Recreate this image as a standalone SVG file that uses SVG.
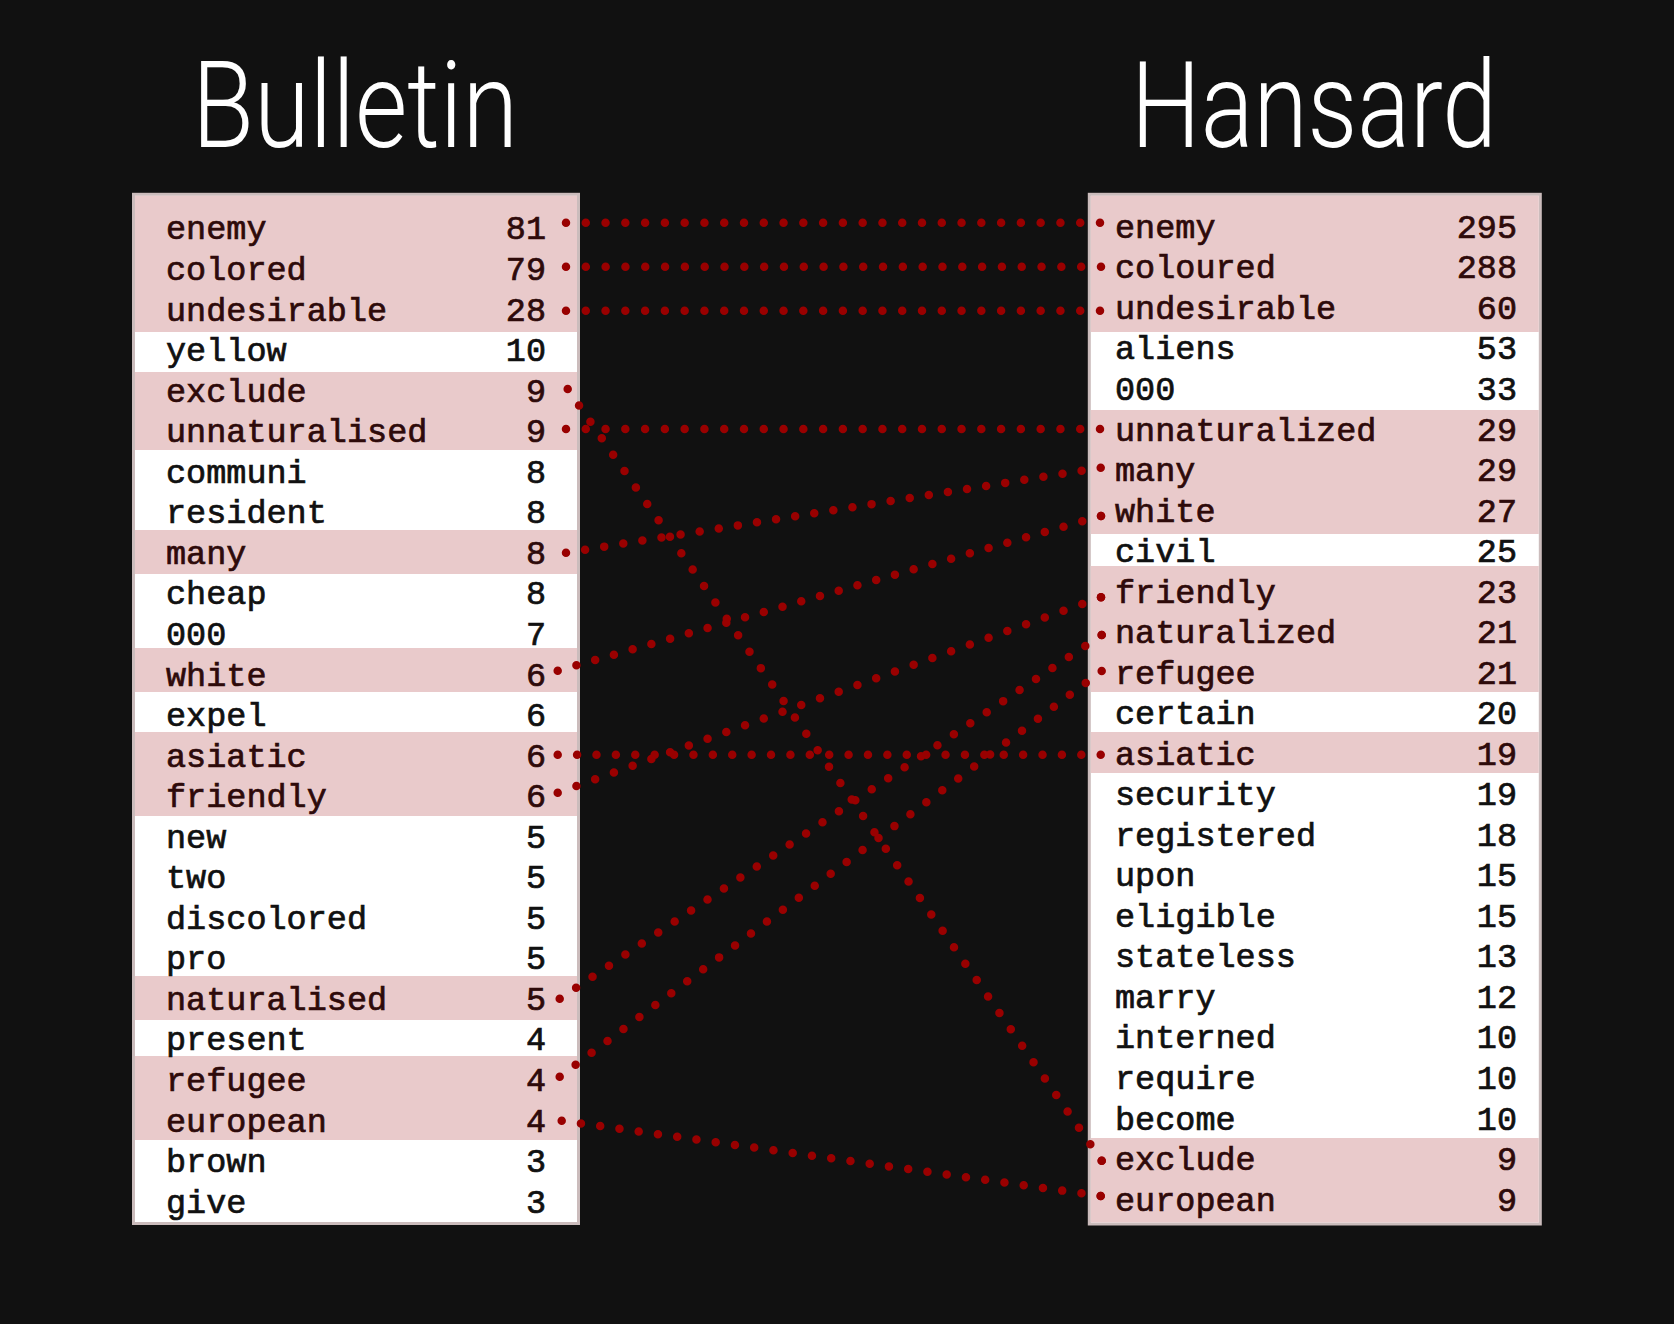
<svg xmlns="http://www.w3.org/2000/svg" width="1674" height="1324" viewBox="0 0 1674 1324">
<style>
.title{font-family:Roboto,"Liberation Sans",sans-serif;font-size:120px;fill:#ffffff;font-weight:300}
.box{stroke:#cbbcbc;stroke-width:3;fill:#ffffff}
.pk{fill:#e9cacb}
.t{font-family:"Liberation Mono","DejaVu Sans Mono",monospace;font-size:33.5px;fill:#111111;stroke:#111111;stroke-width:0.7}
.p{fill:#2e0a0a;stroke:#2e0a0a}
.n{text-anchor:end}
.c{fill:none;stroke:#990000;stroke-width:8.5;stroke-linecap:round;stroke-dasharray:0 1}
.d{fill:#990000}
</style>
<rect x="0" y="0" width="1674" height="1324" fill="#111111"/>
<text class="title" x="192" y="146.7" textLength="326" lengthAdjust="spacingAndGlyphs">Bulletin</text>
<text class="title" x="1131" y="146.7" textLength="366" lengthAdjust="spacingAndGlyphs">Hansard</text>

<g id="bulletin-table">
<rect class="box" x="133.5" y="194.3" width="445" height="1029.2"/>
<rect class="pk" x="135" y="195.8" width="442" height="136.2"/>
<rect class="pk" x="135" y="372" width="442" height="78"/>
<rect class="pk" x="135" y="530" width="442" height="44"/>
<rect class="pk" x="135" y="648" width="442" height="44"/>
<rect class="pk" x="135" y="732" width="442" height="84"/>
<rect class="pk" x="135" y="976" width="442" height="44"/>
<rect class="pk" x="135" y="1056" width="442" height="84"/>
<g id="b-enemy"><text class="t p" x="166" y="239.4">enemy</text><text class="t p n" x="546" y="239.4">81</text></g>
<g id="b-colored"><text class="t p" x="166" y="280">colored</text><text class="t p n" x="546" y="280">79</text></g>
<g id="b-undesirable"><text class="t p" x="166" y="320.5">undesirable</text><text class="t p n" x="546" y="320.5">28</text></g>
<g id="b-yellow"><text class="t" x="166" y="361.1">yellow</text><text class="t n" x="546" y="361.1">10</text></g>
<g id="b-exclude"><text class="t p" x="166" y="401.6">exclude</text><text class="t p n" x="546" y="401.6">9</text></g>
<g id="b-unnaturalised"><text class="t p" x="166" y="442.2">unnaturalised</text><text class="t p n" x="546" y="442.2">9</text></g>
<g id="b-communi"><text class="t" x="166" y="482.7">communi</text><text class="t n" x="546" y="482.7">8</text></g>
<g id="b-resident"><text class="t" x="166" y="523.3">resident</text><text class="t n" x="546" y="523.3">8</text></g>
<g id="b-many"><text class="t p" x="166" y="563.8">many</text><text class="t p n" x="546" y="563.8">8</text></g>
<g id="b-cheap"><text class="t" x="166" y="604.4">cheap</text><text class="t n" x="546" y="604.4">8</text></g>
<g id="b-000"><text class="t" x="166" y="644.9">000</text><text class="t n" x="546" y="644.9">7</text></g>
<g id="b-white"><text class="t p" x="166" y="685.5">white</text><text class="t p n" x="546" y="685.5">6</text></g>
<g id="b-expel"><text class="t" x="166" y="726">expel</text><text class="t n" x="546" y="726">6</text></g>
<g id="b-asiatic"><text class="t p" x="166" y="766.6">asiatic</text><text class="t p n" x="546" y="766.6">6</text></g>
<g id="b-friendly"><text class="t p" x="166" y="807.1">friendly</text><text class="t p n" x="546" y="807.1">6</text></g>
<g id="b-new"><text class="t" x="166" y="847.7">new</text><text class="t n" x="546" y="847.7">5</text></g>
<g id="b-two"><text class="t" x="166" y="888.2">two</text><text class="t n" x="546" y="888.2">5</text></g>
<g id="b-discolored"><text class="t" x="166" y="928.8">discolored</text><text class="t n" x="546" y="928.8">5</text></g>
<g id="b-pro"><text class="t" x="166" y="969.3">pro</text><text class="t n" x="546" y="969.3">5</text></g>
<g id="b-naturalised"><text class="t p" x="166" y="1009.9">naturalised</text><text class="t p n" x="546" y="1009.9">5</text></g>
<g id="b-present"><text class="t" x="166" y="1050.4">present</text><text class="t n" x="546" y="1050.4">4</text></g>
<g id="b-refugee"><text class="t p" x="166" y="1091">refugee</text><text class="t p n" x="546" y="1091">4</text></g>
<g id="b-european"><text class="t p" x="166" y="1131.5">european</text><text class="t p n" x="546" y="1131.5">4</text></g>
<g id="b-brown"><text class="t" x="166" y="1172.1">brown</text><text class="t n" x="546" y="1172.1">3</text></g>
<g id="b-give"><text class="t" x="166" y="1212.6">give</text><text class="t n" x="546" y="1212.6">3</text></g>
</g>

<g id="hansard-table">
<rect class="box" x="1089.3" y="194.3" width="451" height="1029.7"/>
<rect class="pk" x="1090.8" y="195.8" width="448" height="136.2"/>
<rect class="pk" x="1090.8" y="410" width="448" height="124"/>
<rect class="pk" x="1090.8" y="566" width="448" height="126"/>
<rect class="pk" x="1090.8" y="732" width="448" height="41"/>
<rect class="pk" x="1090.8" y="1138" width="448" height="84.5"/>
<g id="h-enemy"><text class="t p" x="1115" y="237.8">enemy</text><text class="t p n" x="1517" y="237.8">295</text></g>
<g id="h-coloured"><text class="t p" x="1115" y="278.3">coloured</text><text class="t p n" x="1517" y="278.3">288</text></g>
<g id="h-undesirable"><text class="t p" x="1115" y="318.9">undesirable</text><text class="t p n" x="1517" y="318.9">60</text></g>
<g id="h-aliens"><text class="t" x="1115" y="359.4">aliens</text><text class="t n" x="1517" y="359.4">53</text></g>
<g id="h-000"><text class="t" x="1115" y="399.9">000</text><text class="t n" x="1517" y="399.9">33</text></g>
<g id="h-unnaturalized"><text class="t p" x="1115" y="440.5">unnaturalized</text><text class="t p n" x="1517" y="440.5">29</text></g>
<g id="h-many"><text class="t p" x="1115" y="481">many</text><text class="t p n" x="1517" y="481">29</text></g>
<g id="h-white"><text class="t p" x="1115" y="521.5">white</text><text class="t p n" x="1517" y="521.5">27</text></g>
<g id="h-civil"><text class="t" x="1115" y="562">civil</text><text class="t n" x="1517" y="562">25</text></g>
<g id="h-friendly"><text class="t p" x="1115" y="602.6">friendly</text><text class="t p n" x="1517" y="602.6">23</text></g>
<g id="h-naturalized"><text class="t p" x="1115" y="643.1">naturalized</text><text class="t p n" x="1517" y="643.1">21</text></g>
<g id="h-refugee"><text class="t p" x="1115" y="683.6">refugee</text><text class="t p n" x="1517" y="683.6">21</text></g>
<g id="h-certain"><text class="t" x="1115" y="724.2">certain</text><text class="t n" x="1517" y="724.2">20</text></g>
<g id="h-asiatic"><text class="t p" x="1115" y="764.7">asiatic</text><text class="t p n" x="1517" y="764.7">19</text></g>
<g id="h-security"><text class="t" x="1115" y="805.2">security</text><text class="t n" x="1517" y="805.2">19</text></g>
<g id="h-registered"><text class="t" x="1115" y="845.8">registered</text><text class="t n" x="1517" y="845.8">18</text></g>
<g id="h-upon"><text class="t" x="1115" y="886.3">upon</text><text class="t n" x="1517" y="886.3">15</text></g>
<g id="h-eligible"><text class="t" x="1115" y="926.8">eligible</text><text class="t n" x="1517" y="926.8">15</text></g>
<g id="h-stateless"><text class="t" x="1115" y="967.3">stateless</text><text class="t n" x="1517" y="967.3">13</text></g>
<g id="h-marry"><text class="t" x="1115" y="1007.9">marry</text><text class="t n" x="1517" y="1007.9">12</text></g>
<g id="h-interned"><text class="t" x="1115" y="1048.4">interned</text><text class="t n" x="1517" y="1048.4">10</text></g>
<g id="h-require"><text class="t" x="1115" y="1088.9">require</text><text class="t n" x="1517" y="1088.9">10</text></g>
<g id="h-become"><text class="t" x="1115" y="1129.5">become</text><text class="t n" x="1517" y="1129.5">10</text></g>
<g id="h-exclude"><text class="t p" x="1115" y="1170">exclude</text><text class="t p n" x="1517" y="1170">9</text></g>
<g id="h-european"><text class="t p" x="1115" y="1210.5">european</text><text class="t p n" x="1517" y="1210.5">9</text></g>
</g>

<g id="connectors">
<path class="c" d="M566 222.7L1100 222.7" pathLength="27"/>
<path class="c" d="M566 266.7L1101 266.7" pathLength="27"/>
<path class="c" d="M566 310.7L1100 310.7" pathLength="27"/>
<path class="c" d="M567.7 389L1101.7 1160.7" pathLength="47"/>
<path class="c" d="M566 429L1100 429" pathLength="27"/>
<path class="c" d="M566 552.7L1100.7 467.7" pathLength="28"/>
<path class="c" d="M557.7 670.7L1101 516" pathLength="29"/>
<path class="c" d="M557.7 754.7L1100.7 754.7" pathLength="28"/>
<path class="c" d="M557.7 792.7L1101 597.3" pathLength="29"/>
<path class="c" d="M559.7 998.7L1101.7 635" pathLength="33"/>
<path class="c" d="M559.7 1076.7L1101.7 671" pathLength="34"/>
<path class="c" d="M561.7 1120.7L1100.7 1196" pathLength="28"/>
<g class="d">
<circle cx="1100" cy="222.7" r="4.25"/>
<circle cx="1101" cy="266.7" r="4.25"/>
<circle cx="1100" cy="310.7" r="4.25"/>
<circle cx="1101.7" cy="1160.7" r="4.25"/>
<circle cx="1100" cy="429" r="4.25"/>
<circle cx="1100.7" cy="467.7" r="4.25"/>
<circle cx="1101" cy="516" r="4.25"/>
<circle cx="1100.7" cy="754.7" r="4.25"/>
<circle cx="1101" cy="597.3" r="4.25"/>
<circle cx="1101.7" cy="635" r="4.25"/>
<circle cx="1101.7" cy="671" r="4.25"/>
<circle cx="1100.7" cy="1196" r="4.25"/>
</g>
</g>
</svg>
